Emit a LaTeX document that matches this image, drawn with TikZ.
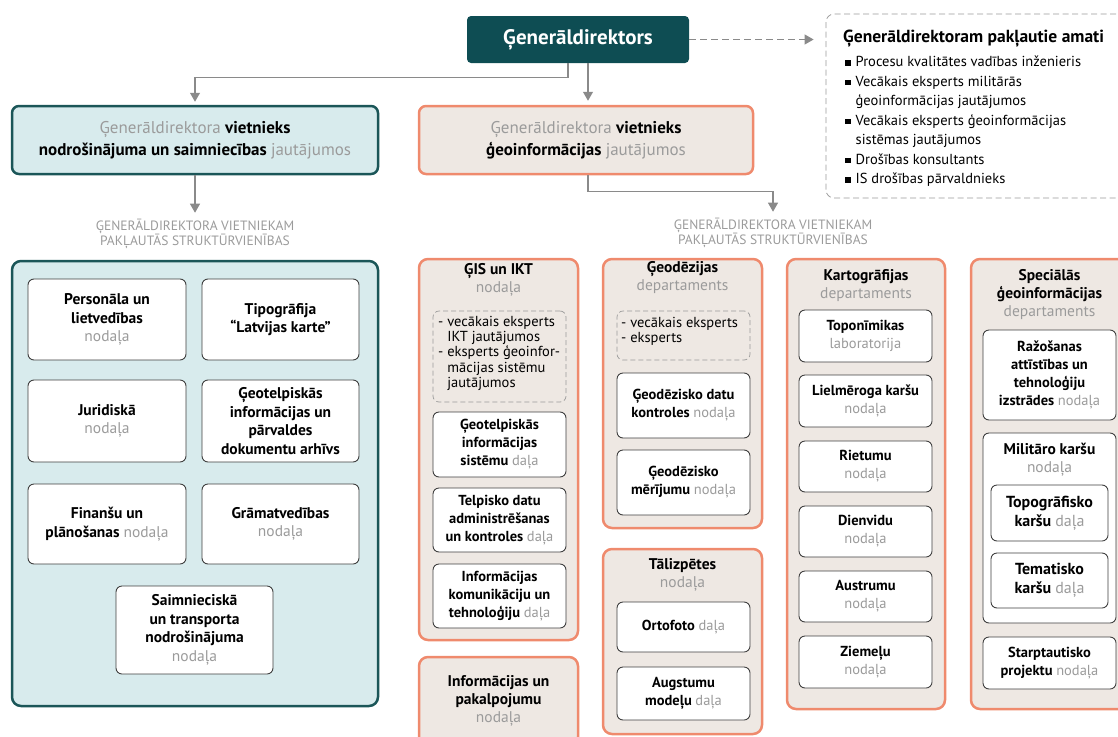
\documentclass[tikz,border=0pt]{standalone}
\usepackage{fontspec}
\setmainfont{PT Sans}
\usetikzlibrary{arrows.meta,calc}
\definecolor{myteal}{HTML}{0E4D53}
\definecolor{tealb}{HTML}{1B5658}
\definecolor{lblue}{HTML}{D8EBED}
\definecolor{beige}{HTML}{EEE8E3}
\definecolor{salmon}{HTML}{EF8A6D}
\definecolor{gtxt}{HTML}{9B9B9B}
\definecolor{connc}{HTML}{8A8A8A}
\definecolor{boxdraw}{HTML}{3F3F3F}
\definecolor{dashc}{HTML}{9A9A9A}
\newcommand\g[1]{{\color{gtxt}\mdseries #1}}
\newcommand\bul{\rule[1pt]{5.5pt}{5.5pt}}
\newcommand\bx[7]{\node[#6,minimum width={(#4)-(#2)},minimum height={(#5)-(#3)}] (#1) at ({((#2)+(#4))/2},{((#3)+(#5))/2}) {#7};}
\tikzset{
  gdbox/.style={fill=myteal,draw=none,rounded corners=4pt,text=white,font=\fontsize{21}{24}\selectfont\bfseries,inner sep=0pt},
  amatibox/.style={draw=dashc,dash pattern=on 6pt off 3.5pt,rounded corners=8pt,line width=0.8pt,inner sep=0pt},
  depL/.style={fill=lblue,draw=tealb,line width=2.5pt,rounded corners=7pt,align=center,font=\fontsize{17}{22}\selectfont\bfseries,inner sep=0pt},
  depC/.style={fill=beige,draw=salmon,line width=2.5pt,rounded corners=7pt,align=center,font=\fontsize{17}{22}\selectfont\bfseries,inner sep=0pt},
  panelL/.style={fill=lblue,draw=tealb,line width=2.5pt,rounded corners=9pt,inner sep=0pt},
  panelO/.style={fill=beige,draw=salmon,line width=2.5pt,rounded corners=9pt,inner sep=0pt,align=center,font=\fontsize{14.5}{18}\selectfont\bfseries},
  ibox/.style={fill=white,draw=boxdraw,line width=0.9pt,rounded corners=6pt,inner sep=0pt,align=center,font=\fontsize{14.5}{18}\selectfont\bfseries},
  lbox/.style={ibox,font=\fontsize{15.5}{18.5}\selectfont\bfseries},
  dbox/.style={draw=dashc,dash pattern=on 5pt off 3pt,line width=0.7pt,rounded corners=6pt,inner sep=0pt},
  ptitle/.style={align=center,font=\fontsize{15.5}{18}\selectfont\bfseries,inner sep=0pt},
  dtext/.style={align=left,font=\fontsize{14.5}{15.2}\selectfont,inner sep=0pt,anchor=north west},
  lbl/.style={align=center,text=gtxt,font=\fontsize{13.5}{15.5}\selectfont,inner sep=0pt},
  conn/.style={draw=connc,line width=1.1pt},
  arr/.style={-{Triangle[width=10pt,length=9pt]}},
}
\begin{document}
\begin{tikzpicture}[x=1pt,y=-1pt]
\useasboundingbox (0,0) rectangle (1118,736);
\clip (0,0) rectangle (1118,736);
% top
\bx{gd}{467}{16}{689}{63}{gdbox}{Ģenerāldirektors}
\bx{amati}{826}{14}{1124}{198}{amatibox}{}
\node[anchor=west,inner sep=0pt,font=\fontsize{17.5}{20}\selectfont\bfseries] (amt) at (843,39) {Ģenerāldirektoram pakļautie amati};
\node[anchor=north west,inner sep=0pt,font=\fontsize{14.5}{19.5}\selectfont] (aml) at (845,53) {%
\begin{tabular}{@{}l@{\hspace{5pt}}l@{}}
\bul & Procesu kvalitātes vadības inženieris\\
\bul & Vecākais eksperts militārās\\
 & ģeoinformācijas jautājumos\\
\bul & Vecākais eksperts ģeoinformācijas\\
 & sistēmas jautājumos\\
\bul & Drošības konsultants\\
\bul & IS drošības pārvaldnieks
\end{tabular}};
% deputies
\bx{dl}{12}{106}{378}{174}{depL}{\g{Ģenerāldirektora} vietnieks\\ nodrošinājuma un saimniecības \g{jautājumos}}
\bx{dc}{419}{106}{753}{174}{depC}{\g{Ģenerāldirektora} vietnieks\\ ģeoinformācijas \g{jautājumos}}
\draw[conn,dash pattern=on 7pt off 4pt,arr,shorten >=12pt] (gd.east) -- (amati.west |- gd.east);
\draw[conn,arr,shorten >=3pt] ([xshift=-10pt]gd.south) -- ++(0,14) -| (dl.north);
\draw[conn,arr,shorten >=4pt] ([xshift=10pt]gd.south) -- ([xshift=10pt]gd.south |- dc.north);
% labels
\node[lbl] (lblL) at (195,234) {ĢENERĀLDIREKTORA VIETNIEKAM\\ PAKĻAUTĀS STRUKTŪRVIENĪBAS};
\node[lbl] (lblR) at (773,233) {ĢENERĀLDIREKTORA VIETNIEKAM\\ PAKĻAUTĀS STRUKTŪRVIENĪBAS};
\draw[conn,arr,shorten >=6pt] (dl.south) -- (lblL.north);
\draw[conn,arr,shorten >=6pt] ([xshift=2pt]dc.south) -- ++(0,16) -| (lblR.north);
% left panel
\bx{pl}{12}{261}{378}{706}{panelL}{}
\bx{l1}{28}{279}{186}{360}{lbox}{Personāla un\\ lietvedības\\ \g{nodaļa}}
\bx{l2}{202}{279}{359}{360}{lbox}{Tipogrāfija\\ “Latvijas karte”}
\bx{l3}{28}{380}{186}{462}{lbox}{Juridiskā\\ \g{nodaļa}}
\bx{l4}{202}{380}{359}{462}{lbox}{Ģeotelpiskās\\ informācijas un\\ pārvaldes\\ dokumentu arhīvs}
\bx{l5}{28}{484}{186}{564}{lbox}{Finanšu un\\ plānošanas \g{nodaļa}}
\bx{l6}{202}{484}{359}{564}{lbox}{Grāmatvedības\\ \g{nodaļa}}
\bx{l7}{116}{586}{273}{674}{lbox}{Saimnieciskā\\ un transporta\\ nodrošinājuma\\ \g{nodaļa}}
% column 1
\bx{c1}{419}{259}{578}{640}{panelO}{}
\node[ptitle] (c1t) at (498.5,280) {ĢIS un IKT\\ \g{nodaļa}};
\bx{c1d}{433}{311}{566}{402}{dbox}{}
\node[dtext] (c1dt) at (438,316) {- vecākais eksperts\\ \phantom{- }IKT jautājumos\\ - eksperts ģeoinfor-\\ \phantom{- }mācijas sistēmu\\ \phantom{- }jautājumos};
\bx{c1a}{433}{412}{566}{477}{ibox}{Ģeotelpiskās\\ informācijas\\ sistēmu \g{daļa}}
\bx{c1b}{433}{488}{566}{552}{ibox}{Telpisko datu\\ administrēšanas\\ un kontroles \g{daļa}}
\bx{c1c}{433}{564}{566}{628}{ibox}{Informācijas\\ komunikāciju un\\ tehnoloģiju \g{daļa}}
\bx{c1p}{419}{657}{578}{746}{panelO}{}
\node[ptitle] (c1pt) at (498.5,701) {Informācijas un\\ pakalpojumu\\ \g{nodaļa}};
% column 2
\bx{c2}{603}{259}{762}{528}{panelO}{}
\node[ptitle] (c2t) at (682.5,278) {Ģeodēzijas\\ \g{departaments}};
\bx{c2d}{617}{311}{750}{360}{dbox}{}
\node[dtext] (c2dt) at (621,317) {- vecākais eksperts\\ - eksperts};
\bx{c2a}{617}{373}{750}{438}{ibox}{Ģeodēzisko datu\\ kontroles \g{nodaļa}}
\bx{c2b}{617}{450}{750}{515}{ibox}{Ģeodēzisko\\ mērījumu \g{nodaļa}}
\bx{c2p}{603}{549}{762}{734}{panelO}{}
\node[ptitle] (c2pt) at (682.5,575) {Tālizpētes\\ \g{nodaļa}};
\bx{c2c}{617}{602}{750}{652}{ibox}{Ortofoto \g{daļa}}
\bx{c2e}{617}{667}{750}{720}{ibox}{Augstumu\\ modeļu \g{daļa}}
% column 3
\bx{c3}{787}{259}{945}{709}{panelO}{}
\node[ptitle] (c3t) at (866,286) {Kartogrāfijas\\ \g{departaments}};
\bx{c3a}{799}{310}{932}{362}{ibox}{Toponīmikas\\ \g{laboratorija}}
\bx{c3b}{799}{375}{932}{427}{ibox}{Lielmēroga karšu\\ \g{nodaļa}}
\bx{c3c}{799}{441}{932}{492}{ibox}{Rietumu\\ \g{nodaļa}}
\bx{c3d}{799}{506}{932}{557}{ibox}{Dienvidu\\ \g{nodaļa}}
\bx{c3e}{799}{571}{932}{622}{ibox}{Austrumu\\ \g{nodaļa}}
\bx{c3f}{799}{636}{932}{688}{ibox}{Ziemeļu\\ \g{nodaļa}}
% column 4
\bx{c4}{971}{259}{1140}{709}{panelO}{}
\node[ptitle] (c4t) at (1049.5,295) {Speciālās\\ ģeoinformācijas\\ \g{departaments}};
\bx{c4a}{983}{330}{1116}{420}{ibox}{Ražošanas\\ attīstības un\\ tehnoloģiju\\ izstrādes \g{nodaļa}}
\bx{c4m}{983}{433}{1116}{623}{ibox}{}
\node[ptitle] (c4mt) at (1049.5,460) {Militāro karšu\\ \g{nodaļa}};
\bx{c4b}{991}{485}{1108}{541}{ibox,font=\fontsize{16}{19}\selectfont\bfseries}{Topogrāfisko\\ karšu \g{daļa}}
\bx{c4c}{991}{553}{1108}{608}{ibox,font=\fontsize{16}{19}\selectfont\bfseries}{Tematisko\\ karšu \g{daļa}}
\bx{c4d}{983}{637}{1116}{689}{ibox}{Starptautisko\\ projektu \g{nodaļa}}
\end{tikzpicture}
\end{document}
